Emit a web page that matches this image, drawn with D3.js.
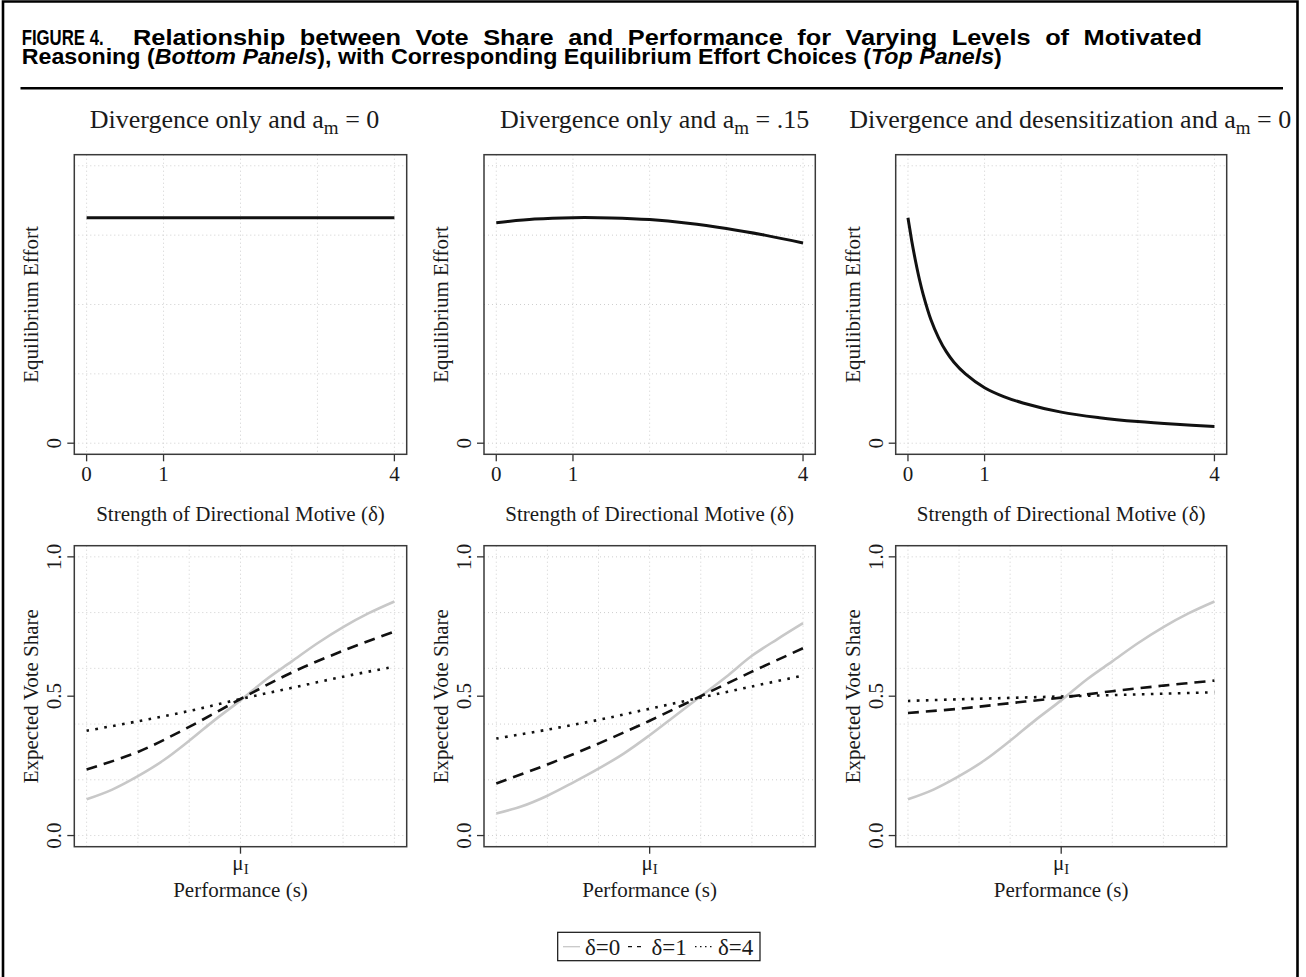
<!DOCTYPE html>
<html><head><meta charset="utf-8">
<script src="https://cdn.jsdelivr.net/npm/d3@7"></script>
<style>
body{margin:0;background:#fff}
svg text{font-family:"Liberation Serif","Times New Roman",serif;fill:#1a1a1a}
</style>
</head><body>
<svg id="c" width="1306" height="977"></svg>
<script>
// ---------------- data ----------------
const figureLine1a = "FIGURE 4.";
const figureLine1b = "Relationship between Vote Share and Performance for Varying Levels of Motivated";
const figureLine2 = [["Reasoning (",false],["Bottom Panels",true],["), with Corresponding Equilibrium Effort Choices (",false],["Top Panels",true],[")",false]];
const panelTitles = [
  ["Divergence only and a","m"," = 0"],
  ["Divergence only and a","m"," = .15"],
  ["Divergence and desensitization and a","m"," = 0"]
];
const deltaTickVals = [0,1,4];
const deltaTickLabels = ["0","1","4"];
const deltaGridVals = [0,1,2,3,4];
const effortGridVals = [0,0.25,0.5,0.75,1];
const effortTickVals = [0];
const effortTickLabels = ["0"];

const effortDelta1 = [0,1,2,3,4];
const effort1 = [0.813,0.813,0.813,0.813,0.813];
const effortDelta2 = [0,0.5,1,1.5,2,2.5,3,3.5,4];
const effort2 = [0.795,0.808,0.813,0.812,0.806,0.793,0.774,0.75,0.722];
const effortDelta3 = [0,0.025,0.05,0.1,0.15,0.2,0.3,0.4,0.5,0.6,0.75,1,1.25,1.5,2,2.5,3,3.5,4];
const effort3 = [0.813,0.77,0.728,0.655,0.59,0.535,0.445,0.38,0.33,0.292,0.25,0.2,0.168,0.145,0.112,0.092,0.078,0.068,0.06];

const perfCoarse = [-3,-2,-1,0,1,2,3];
const perfFine = [-3,-2.5,-2,-1.5,-1,-0.5,0,0.5,1,1.5,2,2.5,3];
const perfGridVals = [-3,-2,-1,0,1,2,3];
const voteGridVals = [0,0.2,0.4,0.6,0.8,1];
const voteTickVals = [0,0.5,1];
const voteTickLabels = ["0.0","0.5","1.0"];

const voteD0_p1 = [0.13,0.165,0.213,0.27,0.34,0.415,0.485,0.56,0.625,0.69,0.748,0.798,0.84];
const voteD1_p1 = [0.237,0.30,0.39,0.49,0.585,0.663,0.732];
const voteD4_p1 = [0.376,0.41,0.447,0.49,0.53,0.57,0.606];
const voteD0_p2 = [0.079,0.105,0.143,0.19,0.24,0.295,0.36,0.43,0.5,0.57,0.645,0.705,0.762];
const voteD1_p2 = [0.187,0.255,0.33,0.412,0.5,0.588,0.672];
const voteD4_p2 = [0.348,0.38,0.415,0.455,0.495,0.535,0.574];
const voteD0_p3 = [0.13,0.165,0.213,0.27,0.34,0.415,0.485,0.56,0.625,0.69,0.748,0.798,0.84];
const voteD1_p3 = [0.44,0.455,0.475,0.495,0.518,0.538,0.556];
const voteD4_p3 = [0.483,0.489,0.494,0.499,0.504,0.509,0.514];

const legendLabels = ["\u03b4=0","\u03b4=1","\u03b4=4"];

// ---------------- layout ----------------
const svg = d3.select("#c");
const boxX = [[74.3,406.7],[484,815.3],[895.7,1226.7]];
const titleShift = [-6,5,9];
const topY = [154.7,454.3];
const botY = [545.7,846.7];
const FS = 21;

// outer frame
svg.append("path").attr("d","M3,977 V1.5 H1297.5 V977").attr("fill","none").attr("stroke","#000").attr("stroke-width",2.6);
svg.append("line").attr("x1",20.5).attr("x2",1283).attr("y1",88.3).attr("y2",88.3).attr("stroke","#000").attr("stroke-width",2.6);

// main title
const tstyle = s => s.style("font-family","'Liberation Sans',Arial,sans-serif").style("font-weight","bold").style("font-size","21.5px").style("fill","#000");
const t2 = tstyle(svg.append("text"));
figureLine2.forEach(([s,it])=>t2.append("tspan").text(s).style("font-style",it?"italic":"normal"));
const sx2 = 981 / t2.node().getComputedTextLength();
t2.attr("transform",`translate(21.7,63.5) scale(${sx2},1)`);
const t1b = tstyle(svg.append("text").text(figureLine1b));
const w1b = t1b.node().getComputedTextLength();
const s1 = 1.18;
t1b.style("word-spacing", Math.max(0,(1077/s1 - w1b)/11) + "px");
t1b.attr("transform",`translate(133,45) scale(${s1},1)`);
const t1a = tstyle(svg.append("text").text(figureLine1a));
const w1a = t1a.node().getComputedTextLength();
t1a.attr("transform",`translate(21.7,45) scale(${82/w1a},1)`);

function gridAndBox(g, xs, ys, xGrid, yGrid, x0, x1, y0, y1){
  g.selectAll(".gx").data(xGrid).join("line").attr("class","gx").attr("x1",d=>xs(d)).attr("x2",d=>xs(d)).attr("y1",y0).attr("y2",y1)
    .attr("stroke","#cfcfcf").attr("stroke-width",1).attr("stroke-dasharray","1,3");
  g.selectAll(".gy").data(yGrid).join("line").attr("class","gy").attr("x1",x0).attr("x2",x1).attr("y1",d=>ys(d)).attr("y2",d=>ys(d))
    .attr("stroke","#cfcfcf").attr("stroke-width",1).attr("stroke-dasharray","1,3");
}

function yAxis(g, ys, vals, labels, x0){
  vals.forEach((v,i)=>{
    g.append("line").attr("x1",x0-7).attr("x2",x0).attr("y1",ys(v)).attr("y2",ys(v)).attr("stroke","#333").attr("stroke-width",1.3);
    g.append("text").attr("transform",`translate(${x0-13},${ys(v)}) rotate(-90)`).attr("text-anchor","middle").style("font-size",FS+"px").text(labels[i]);
  });
}
function yTitle(g, text, x0, yc){
  g.append("text").attr("transform",`translate(${x0-36},${yc}) rotate(-90)`).attr("text-anchor","middle").style("font-size",FS+"px").text(text);
}

const effortSeries = [[effortDelta1,effort1],[effortDelta2,effort2],[effortDelta3,effort3]];
const voteSeries = [
  [voteD0_p1,voteD1_p1,voteD4_p1],
  [voteD0_p2,voteD1_p2,voteD4_p2],
  [voteD0_p3,voteD1_p3,voteD4_p3]
];

for(let p=0;p<3;p++){
  const [x0,x1] = boxX[p];
  const xc = (x0+x1)/2;
  // panel title
  const tt = svg.append("text").attr("x",xc+titleShift[p]).attr("y",128).attr("text-anchor","middle").style("font-size","26px");
  tt.append("tspan").text(panelTitles[p][0]);
  tt.append("tspan").attr("dy",6).style("font-size","19px").text(panelTitles[p][1]);
  tt.append("tspan").attr("dy",-6).text(panelTitles[p][2]);

  // top panel
  const g = svg.append("g");
  const xs = d3.scaleLinear().domain([-0.16,4.16]).range([x0,x1]);
  const ys = d3.scaleLinear().domain([-0.04,1.04]).range([topY[1],topY[0]]);
  gridAndBox(g, xs, ys, deltaGridVals, effortGridVals, x0, x1, topY[0], topY[1]);
  const [dx, ev] = effortSeries[p];
  const line = d3.line().x((d,i)=>xs(dx[i])).y(d=>ys(d)).curve(d3.curveCatmullRom.alpha(0.5));
  g.append("path").attr("d",line(ev)).attr("fill","none").attr("stroke","#111").attr("stroke-width",3);
  g.append("rect").attr("x",x0).attr("y",topY[0]).attr("width",x1-x0).attr("height",topY[1]-topY[0]).attr("fill","none").attr("stroke","#3a3a3a").attr("stroke-width",1.5);
  deltaTickVals.forEach((v,i)=>{
    g.append("line").attr("x1",xs(v)).attr("x2",xs(v)).attr("y1",topY[1]).attr("y2",topY[1]+7).attr("stroke","#333").attr("stroke-width",1.3);
    g.append("text").attr("x",xs(v)).attr("y",topY[1]+26.5).attr("text-anchor","middle").style("font-size",FS+"px").text(deltaTickLabels[i]);
  });
  g.append("text").attr("x",xc).attr("y",topY[1]+67).attr("text-anchor","middle").style("font-size",FS+"px").text("Strength of Directional Motive (\u03b4)");
  yAxis(g, ys, effortTickVals, effortTickLabels, x0);
  yTitle(g, "Equilibrium Effort", x0, (topY[0]+topY[1])/2);

  // bottom panel
  const gb = svg.append("g");
  const xb = d3.scaleLinear().domain([-3.24,3.24]).range([x0,x1]);
  const yb = d3.scaleLinear().domain([-0.04,1.04]).range([botY[1],botY[0]]);
  gridAndBox(gb, xb, yb, perfGridVals, voteGridVals, x0, x1, botY[0], botY[1]);
  const [v0,v1,v4] = voteSeries[p];
  const lf = d3.line().x((d,i)=>xb(perfFine[i])).y(d=>yb(d)).curve(d3.curveCatmullRom.alpha(0.5));
  const lc = d3.line().x((d,i)=>xb(perfCoarse[i])).y(d=>yb(d)).curve(d3.curveCatmullRom.alpha(0.5));
  gb.append("path").attr("d",lf(v0)).attr("fill","none").attr("stroke","#c8c8c8").attr("stroke-width",2.6);
  gb.append("path").attr("d",lc(v1)).attr("fill","none").attr("stroke","#111").attr("stroke-width",2.6).attr("stroke-dasharray","11,7");
  gb.append("path").attr("d",lc(v4)).attr("fill","none").attr("stroke","#111").attr("stroke-width",2.6).attr("stroke-dasharray","2.6,6.4");
  gb.append("rect").attr("x",x0).attr("y",botY[0]).attr("width",x1-x0).attr("height",botY[1]-botY[0]).attr("fill","none").attr("stroke","#3a3a3a").attr("stroke-width",1.5);
  gb.append("line").attr("x1",xb(0)).attr("x2",xb(0)).attr("y1",botY[1]).attr("y2",botY[1]+7).attr("stroke","#333").attr("stroke-width",1.3);
  const mu = gb.append("text").attr("x",xb(0)).attr("y",botY[1]+23).attr("text-anchor","middle").style("font-size",FS+"px");
  mu.append("tspan").text("\u03bc");
  mu.append("tspan").attr("dy",4).style("font-size","15px").text("I");
  gb.append("text").attr("x",xc).attr("y",botY[1]+50).attr("text-anchor","middle").style("font-size",FS+"px").text("Performance (s)");
  yAxis(gb, yb, voteTickVals, voteTickLabels, x0);
  yTitle(gb, "Expected Vote Share", x0, (botY[0]+botY[1])/2);
}

// ---------------- legend ----------------
const lg = svg.append("g");
lg.append("rect").attr("x",557.7).attr("y",932.3).attr("width",202.3).attr("height",28.4).attr("fill","#fff").attr("stroke","#111").attr("stroke-width",1.2);
const ly = 946.7;
const legendStyles = [["#c8c8c8",null,563,580],["#111","4,5",628,643],["#111","1.5,3.5",695,712]];
const legendTextX = [585,651.5,718];
legendLabels.forEach((lab,i)=>{
  const [col,da,a,b] = legendStyles[i];
  const ln = lg.append("line").attr("x1",a).attr("x2",b).attr("y1",ly).attr("y2",ly).attr("stroke",col).attr("stroke-width",1.3);
  if(da) ln.attr("stroke-dasharray",da);
  lg.append("text").attr("x",legendTextX[i]).attr("y",955).style("font-size","23px").text(lab);
});
</script>
</body></html>
